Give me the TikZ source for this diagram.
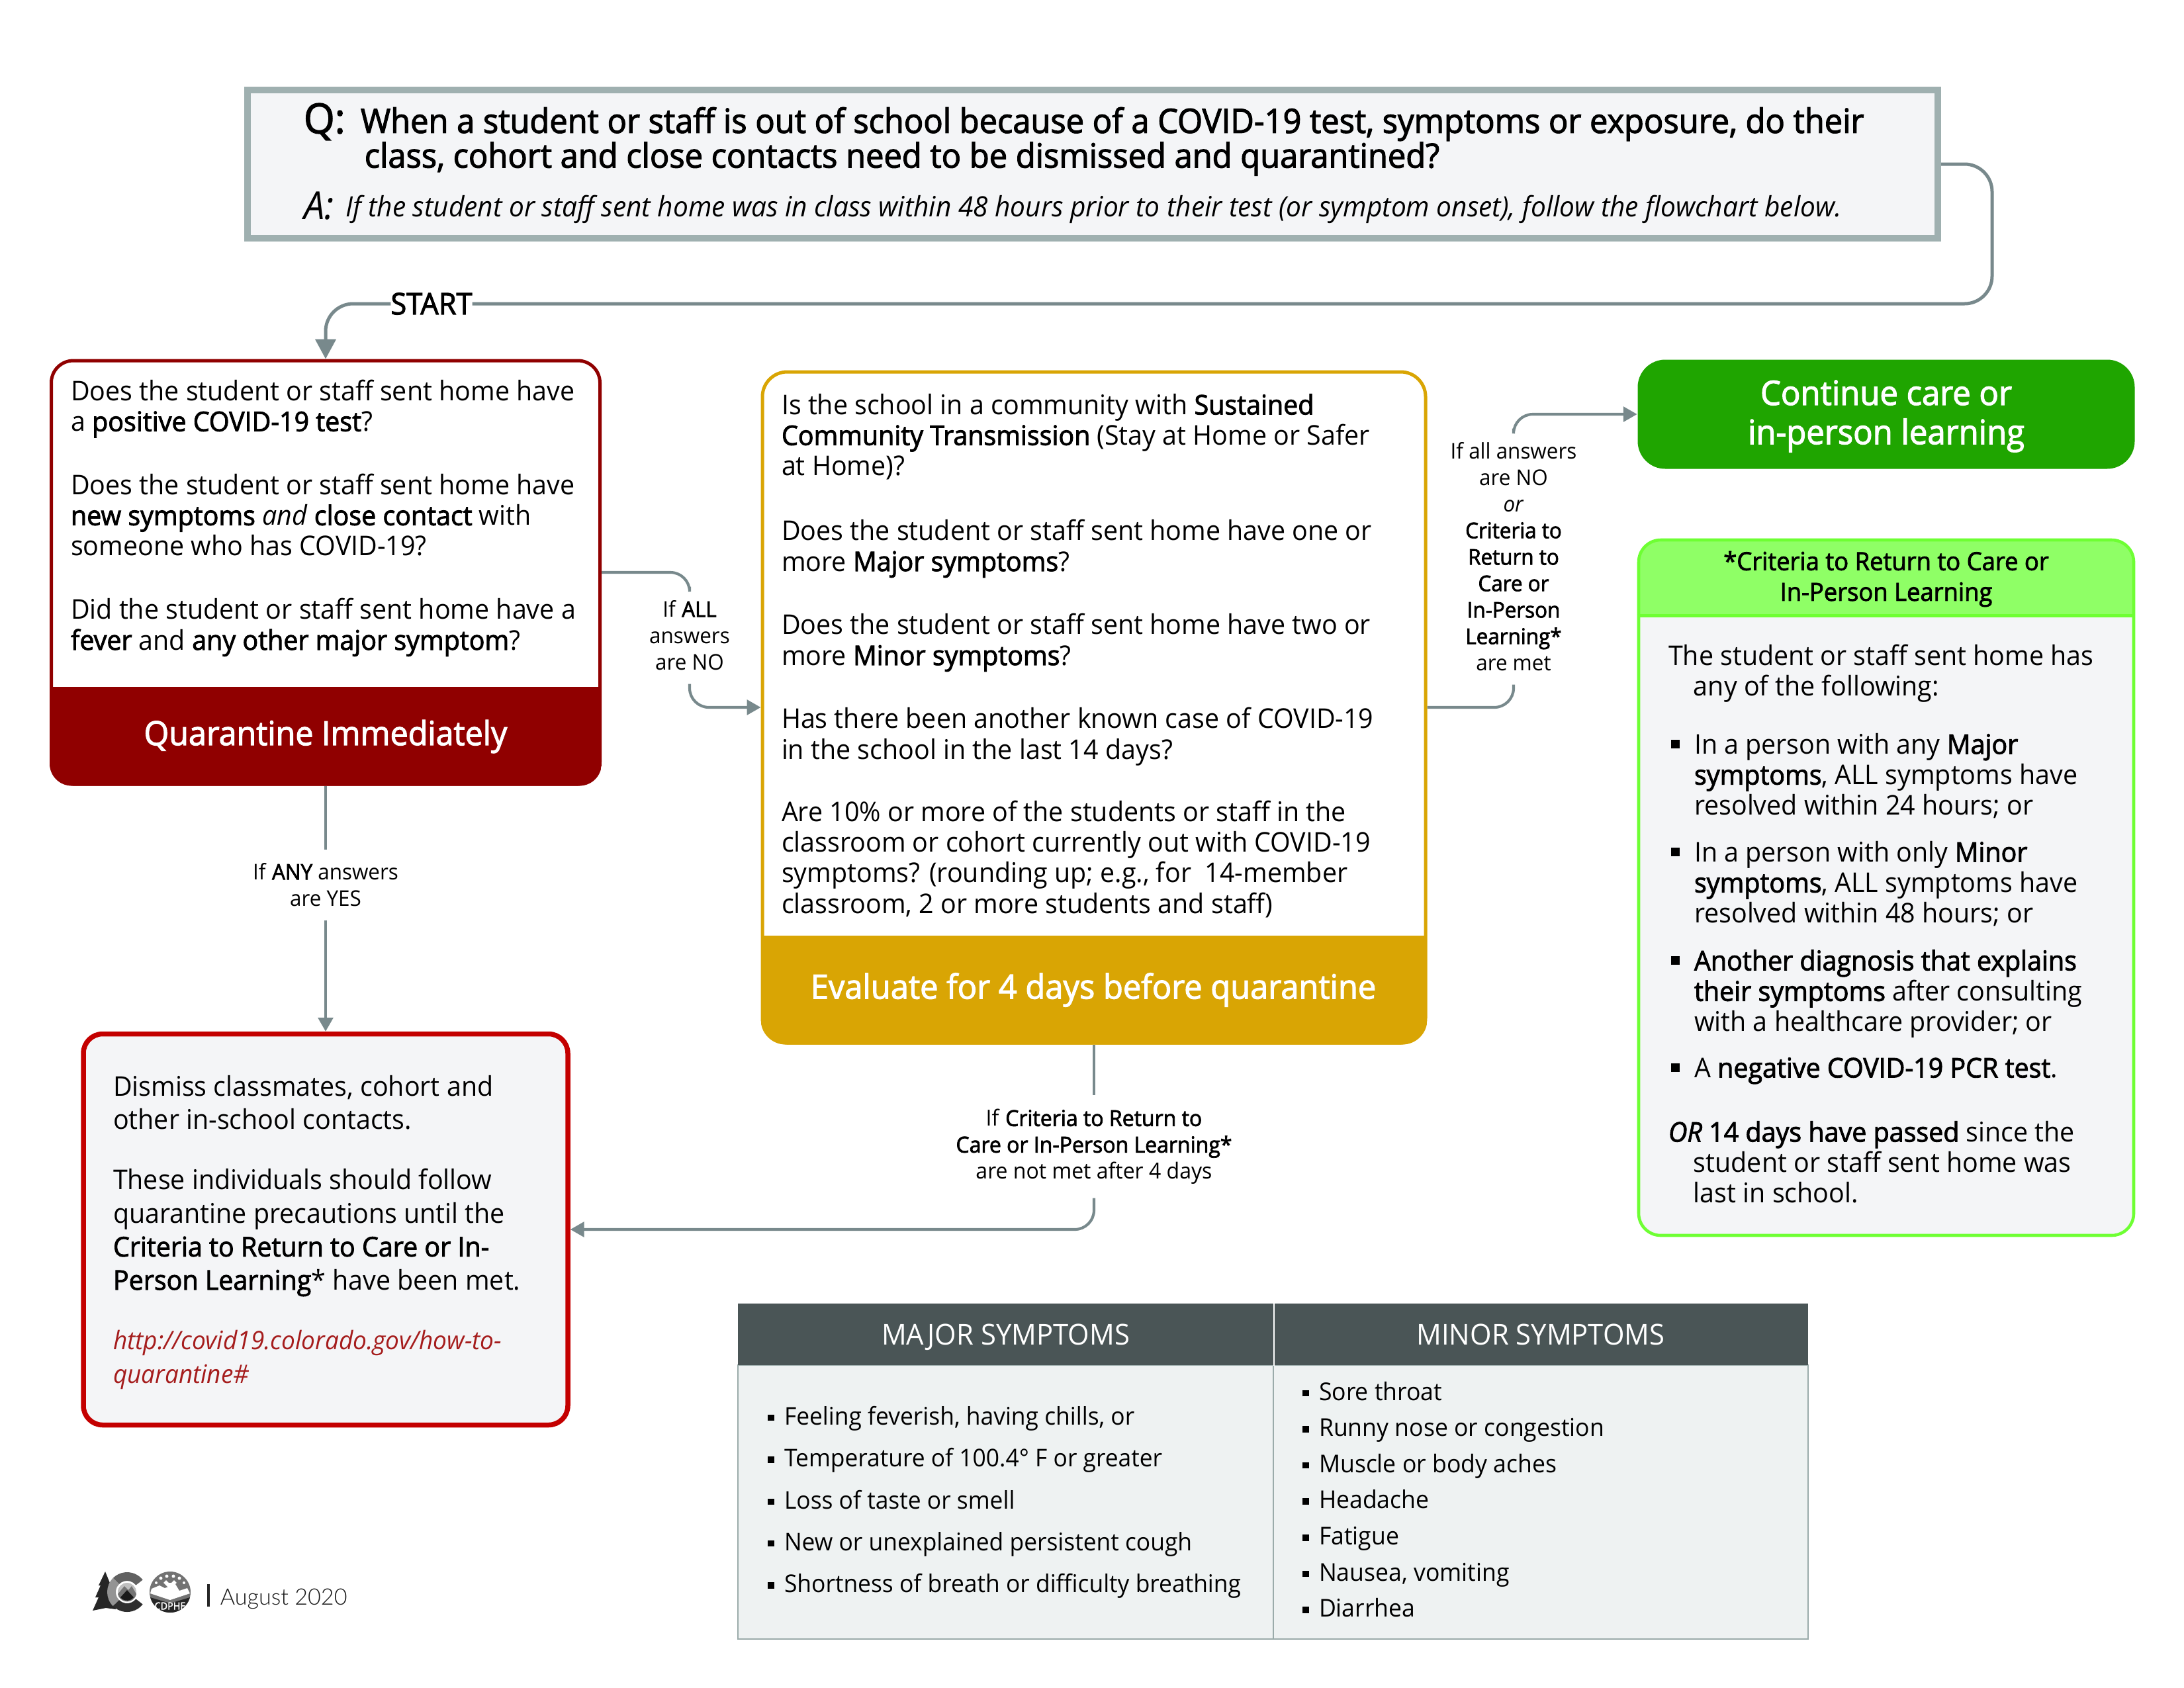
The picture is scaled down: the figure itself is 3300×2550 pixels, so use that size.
\documentclass[tikz,border=0pt]{standalone}
\usepackage{fontspec}
\setmainfont{Open Sans}[FakeStretch=0.96,BoldFont={Open Sans},BoldFeatures={FakeBold=2.2},BoldItalicFont={Open Sans Italic},BoldItalicFeatures={FakeBold=2.2}]
\newfontfamily\datefont{Lato Light}
\usetikzlibrary{arrows.meta}
\definecolor{qborder}{HTML}{9FB0B0}
\definecolor{qfill}{HTML}{F4F5F7}
\definecolor{conn}{HTML}{78898C}
\definecolor{dred}{HTML}{900000}
\definecolor{brred}{HTML}{C40000}
\definecolor{gold}{HTML}{D9A504}
\definecolor{grn}{HTML}{1FA500}
\definecolor{lgb}{HTML}{6EFF33}
\definecolor{lgh}{HTML}{8FFF66}
\definecolor{tdark}{HTML}{4A5556}
\definecolor{tfill}{HTML}{EEF2F2}
\definecolor{tline}{HTML}{9AABAA}
\definecolor{linkred}{HTML}{A51C1C}
\lineskiplimit=-20pt
\newcommand\bodyf{\fontsize{9.85}{11.1}\selectfont}
\newcommand\dismf{\fontsize{9.85}{12.1}\selectfont}
\newcommand\lblf{\fontsize{7.85}{9.6}\selectfont}
\newcommand\majf{\fontsize{8.85}{15.2}\selectfont}
\newcommand\minf{\fontsize{8.9}{13.1}\selectfont}
\newcommand\bul{\makebox[8.4pt][l]{\rule[2.1pt]{3pt}{3pt}}}
\newcommand\tb{\makebox[6pt][l]{\rule[0.16em]{2.3pt}{2.3pt}}}
\newcommand\ind{\hspace*{8.4pt}}
\tikzset{
  txt/.style={anchor=north west,inner sep=0pt,outer sep=0pt,align=left,font=\bodyf},
  lbl/.style={inner sep=0pt,outer sep=5pt,align=center,font=\lblf},
  sized/.style 2 args={minimum width=#1*0.24pt,minimum height=#2*0.24pt,inner sep=0pt},
  connline/.style={draw=conn,line width=1pt,rounded corners=7pt},
  arr/.style={-{Triangle[length=5pt,width=5.4pt]}},
  bandtxt/.style={text=white,inner sep=0pt},
  thead/.style={text=white,font=\fontsize{10.45}{12}\selectfont,text height=8pt,text depth=0.5pt},
}
\begin{document}
\begin{tikzpicture}[x=0.24pt,y=-0.24pt]
\useasboundingbox (0,0) rectangle (3300,2550);
\fill[white] (0,0) rectangle (3300,2550);

% question box
\node[sized={2554}{224},draw=qborder,fill=qfill,line width=2.4pt] (qbox) at (1651,248) {};
\node[txt,font=\fontsize{15}{15}\selectfont] (qq) at (459,156) {\textbf{Q:}};
\node[txt,font=\fontsize{12.2}{12.6}\selectfont] (qt) at (545,162) {\strut\textbf{When a student or staff is out of school because of a COVID-19 test, symptoms or exposure, do their}\\\hspace*{1.4pt}\textbf{class, cohort and close contacts need to be dismissed and quarantined?}};
\node[txt,font=\fontsize{14}{14}\selectfont\itshape] (qa) at (459,290) {A:};
\node[txt,font=\fontsize{10.16}{12}\selectfont\itshape] (qi) at (522,292) {\strut If the student or staff sent home was in class within 48 hours prior to their test (or symptom onset), follow the flowchart below.};

% red box
\node[sized={829}{640},draw=dred,fill=white,line width=1.2pt,rounded corners=8pt] (redbox) at (492,865) {};
\begin{scope}
\clip[rounded corners=8pt] (redbox.south west) rectangle (redbox.north east);
\fill[dred] (redbox.south west) rectangle (redbox.east |- 0,1038);
\end{scope}
\node[txt] (redt) at (107,573) {\strut Does the student or staff sent home have\\a \textbf{positive COVID-19 test}?\\[11.9pt]Does the student or staff sent home have\\\textbf{new symptoms} \textit{and} \textbf{close contact} with\\someone who has COVID-19?\\[11.9pt]Did the student or staff sent home have a\\\textbf{fever} and \textbf{any other major symptom}?};
\node[bandtxt,font=\fontsize{12.1}{14}\selectfont\bfseries] (qimm) at (492,1113) {Quarantine Immediately};

% gold box
\node[sized={1002}{1014},draw=gold,fill=white,line width=1.2pt,rounded corners=9pt] (goldbox) at (1653,1069) {};
\begin{scope}
\clip[rounded corners=9pt] (goldbox.south west) rectangle (goldbox.north east);
\fill[gold] (goldbox.south west) rectangle (goldbox.east |- 0,1414);
\end{scope}
\node[txt] (goldt) at (1181,594) {\strut Is the school in a community with \textbf{Sustained}\\\textbf{Community Transmission} (Stay at Home or Safer\\at Home)?\\[12.4pt]Does the student or staff sent home have one or\\more \textbf{Major symptoms}?\\[11.9pt]Does the student or staff sent home have two or\\more \textbf{Minor symptoms}?\\[11.9pt]Has there been another known case of COVID-19\\in the school in the last 14 days?\\[11.5pt]Are 10\% or more of the students or staff in the\\classroom or cohort currently out with COVID-19\\symptoms? (rounding up; e.g., for\ \ 14-member\\classroom, 2 or more students and staff)};
\node[bandtxt,font=\fontsize{12.2}{14}\selectfont\bfseries] (evalq) at (1652,1496) {Evaluate for 4 days before quarantine};

% green box
\node[sized={751}{165},fill=grn,rounded corners=10pt] (greenbox) at (2850,626) {};
\node[bandtxt,align=center,font=\fontsize{12.25}{14.2}\selectfont\bfseries] (cont) at (2850,629) {Continue care or\\in-person learning};

% criteria box
\fill[qfill,rounded corners=8pt] (2476,816) rectangle (3224,1867);
\begin{scope}
\clip[rounded corners=8pt] (2476,816) rectangle (3224,1867);
\fill[lgh] (2476,816) rectangle (3224,930);
\end{scope}
\node[sized={748}{1051},draw=lgb,line width=1.1pt,rounded corners=8pt] (critbox) at (2850,1341.5) {};
\draw[draw=lgb,line width=1.2pt] (critbox.west |- 0,930) -- (critbox.east |- 0,930);
\node[inner sep=0pt,align=center,font=\fontsize{9.1}{11.1}\selectfont] (crith) at (2850,875) {\textbf{*Criteria to Return to Care or}\\\textbf{In-Person Learning}};
\node[txt] (c1) at (2521,973) {\strut The student or staff sent home has\\\hspace*{9.1pt}any of the following:};
\node[txt] (c2) at (2525,1107) {\strut\bul In a person with any \textbf{Major}\\\ind\textbf{symptoms}, ALL symptoms have\\\ind resolved within 24 hours; or};
\node[txt] (c3) at (2525,1270) {\strut\bul In a person with only \textbf{Minor}\\\ind\textbf{symptoms}, ALL symptoms have\\\ind resolved within 48 hours; or};
\node[txt] (c4) at (2525,1434) {\strut\bul \textbf{Another diagnosis that explains}\\\ind\textbf{their symptoms} after consulting\\\ind with a healthcare provider; or};
\node[txt] (c5) at (2525,1596) {\strut\bul A \textbf{negative COVID-19 PCR test}.};
\node[txt] (c6) at (2521,1693) {\strut\textbf{\textit{OR}} \textbf{14 days have passed} since the\\\hspace*{9.1pt}student or staff sent home was\\\hspace*{9.1pt}last in school.};

% dismiss box
\node[sized={732}{591},draw=brred,fill=qfill,line width=1.8pt,rounded corners=7pt] (dismbox) at (492,1858) {};
\node[txt,font=\dismf] (dismt) at (171,1621) {\strut Dismiss classmates, cohort and\\other in-school contacts.\\[9.8pt]These individuals should follow\\quarantine precautions until the\\\textbf{Criteria to Return to Care or In-}\\\textbf{Person Learning}* have been met.\\[9.6pt]\textcolor{linkred}{\fontsize{9.25}{12.1}\selectfont\itshape http://covid19.colorado.gov/how-to-}\\\textcolor{linkred}{\fontsize{9.25}{12.1}\selectfont\itshape quarantine\#}};

% connector labels
\node[inner sep=0pt,outer sep=0pt,font=\fontsize{10.85}{12}\selectfont\bfseries,fill=none] (startl) at (652,459) {START};
\node[lbl] (lall) at (1042,960) {If \textbf{ALL}\\answers\\are NO};
\node[lbl] (lmet) at (2287,841) {If all answers\\are NO\\\textit{or}\\\textbf{Criteria to}\\\textbf{Return to}\\\textbf{Care or}\\\textbf{In-Person}\\\textbf{Learning*}\\are met};
\node[lbl] (lany) at (492,1337) {If \textbf{ANY} answers\\are YES};
\node[lbl,font=\fontsize{8}{9.6}\selectfont] (lnot) at (1653,1733) {If \textbf{Criteria to Return to}\\\textbf{Care or In-Person Learning*}\\are not met after 4 days};

% connectors
\coordinate (qc1) at (3010,248);
\coordinate (qc2) at (3010,459);
\draw[connline,line width=1.2pt,rounded corners=10pt] (qbox.east) -- (qc1) -- (qc2) -- (startl.east);
\draw[connline,line width=1.2pt,rounded corners=10pt,-{Triangle[length=7.2pt,width=7.4pt]}] (startl.west) -| (redbox.north);
\draw[connline] (redbox.east) -| (lall.north);
\draw[connline,arr] (lall.south) |- (goldbox.west);
\draw[connline] (goldbox.east) -| (lmet.south);
\draw[connline,arr] (lmet.north) |- (greenbox.west);
\draw[connline] (redbox.south) -- (lany.north);
\draw[connline,arr] (lany.south) -- (dismbox.north);
\draw[connline] (goldbox.south) -- (lnot.north);
\draw[connline,arr] (lnot.south) |- (dismbox.east);

% symptoms table
\node[sized={809}{414},draw=tline,fill=tfill,line width=0.6pt] (majb) at (1519.5,2270) {};
\node[sized={808}{414},draw=tline,fill=tfill,line width=0.6pt] (minb) at (2328,2270) {};
\node[sized={809}{93},fill=tdark,thead] (majh) at (1519.5,2016.5) {MAJOR SYMPTOMS};
\node[sized={808}{93},fill=tdark,thead] (minh) at (2328,2016.5) {MINOR SYMPTOMS};
\draw[white,line width=0.5pt] (majh.north east) -- (majh.south east);
\node[txt,font=\majf] (majl) at (1160,2109) {\strut\tb Feeling feverish, having chills, or\\\tb Temperature of 100.4° F or greater\\\tb Loss of taste or smell\\\tb New or unexplained persistent cough\\\tb Shortness of breath or difficulty breathing};
\node[txt,font=\minf] (minl) at (1968,2078) {\strut\tb Sore throat\\\tb Runny nose or congestion\\\tb Muscle or body aches\\\tb Headache\\\tb Fatigue\\\tb Nausea, vomiting\\\tb Diarrhea};

% logo
\fill[black!85] (159,2375) -- (168,2397) -- (164,2397) -- (172,2415) -- (175,2432) -- (160,2430) -- (140,2434) -- (149,2414) -- (144,2414) -- (152,2396) -- (149,2396) -- cycle;
\begin{scope}[shift={(192,2406)},x=0.24pt,y=0.24pt]
  \fill[black!62] (38:30) arc (38:135:30) -- (135:17) arc (135:38:17) -- cycle;
  \fill[black!42] (135:30) arc (135:225:30) -- (225:17) arc (225:135:17) -- cycle;
  \fill[black!82] (225:30) arc (225:322:30) -- (322:17) arc (322:225:17) -- cycle;
  \fill[black!25] (0,0) circle (14);
  \fill[black!55] (-14,-3) -- (-4,9) -- (2,3) -- (7,9) -- (14,-3) arc (-12:-168:14.3) -- cycle;
  \fill[black!90] (-10,-8) -- (0,3) -- (10,-8) arc (-39:-141:13) -- cycle;
\end{scope}
\begin{scope}[shift={(257,2406)},x=0.24pt,y=0.24pt]
  \fill[black!55] (0,0) circle (31);
  \fill[white] (-30,-2) -- (0,-12) -- (30,-2) -- (26,6) -- (14,2) -- (8,12) -- (-8,6) -- (-16,10) -- (-28,5) -- cycle;
  \fill[black!85] (-30,-8) -- (0,-17) -- (30,-8) arc (-15:-165:31) -- cycle;
  \draw[white,line width=1.3pt] (0,-6) -- (0,14) (0,8) -- (-8,16) (0,8) -- (8,16);
  \fill[white] (-14,21) circle (2.5) (-5,24) circle (2.5) (5,24) circle (2.5) (14,21) circle (2.5) (-21,14) circle (2) (21,14) circle (2);
\end{scope}
\node[inner sep=0pt,text=white,font=\fontsize{3.6}{4}\selectfont\bfseries] (cdphe) at (257,2427) {CDPHE};
\draw[black!85,line width=0.8pt] (315,2394) -- (315,2428);
\node[anchor=west,inner sep=0pt,text=black!90,font=\fontsize{8.2}{10}\selectfont\datefont] (date) at (332,2416) {August 2020};
\end{tikzpicture}
\end{document}
